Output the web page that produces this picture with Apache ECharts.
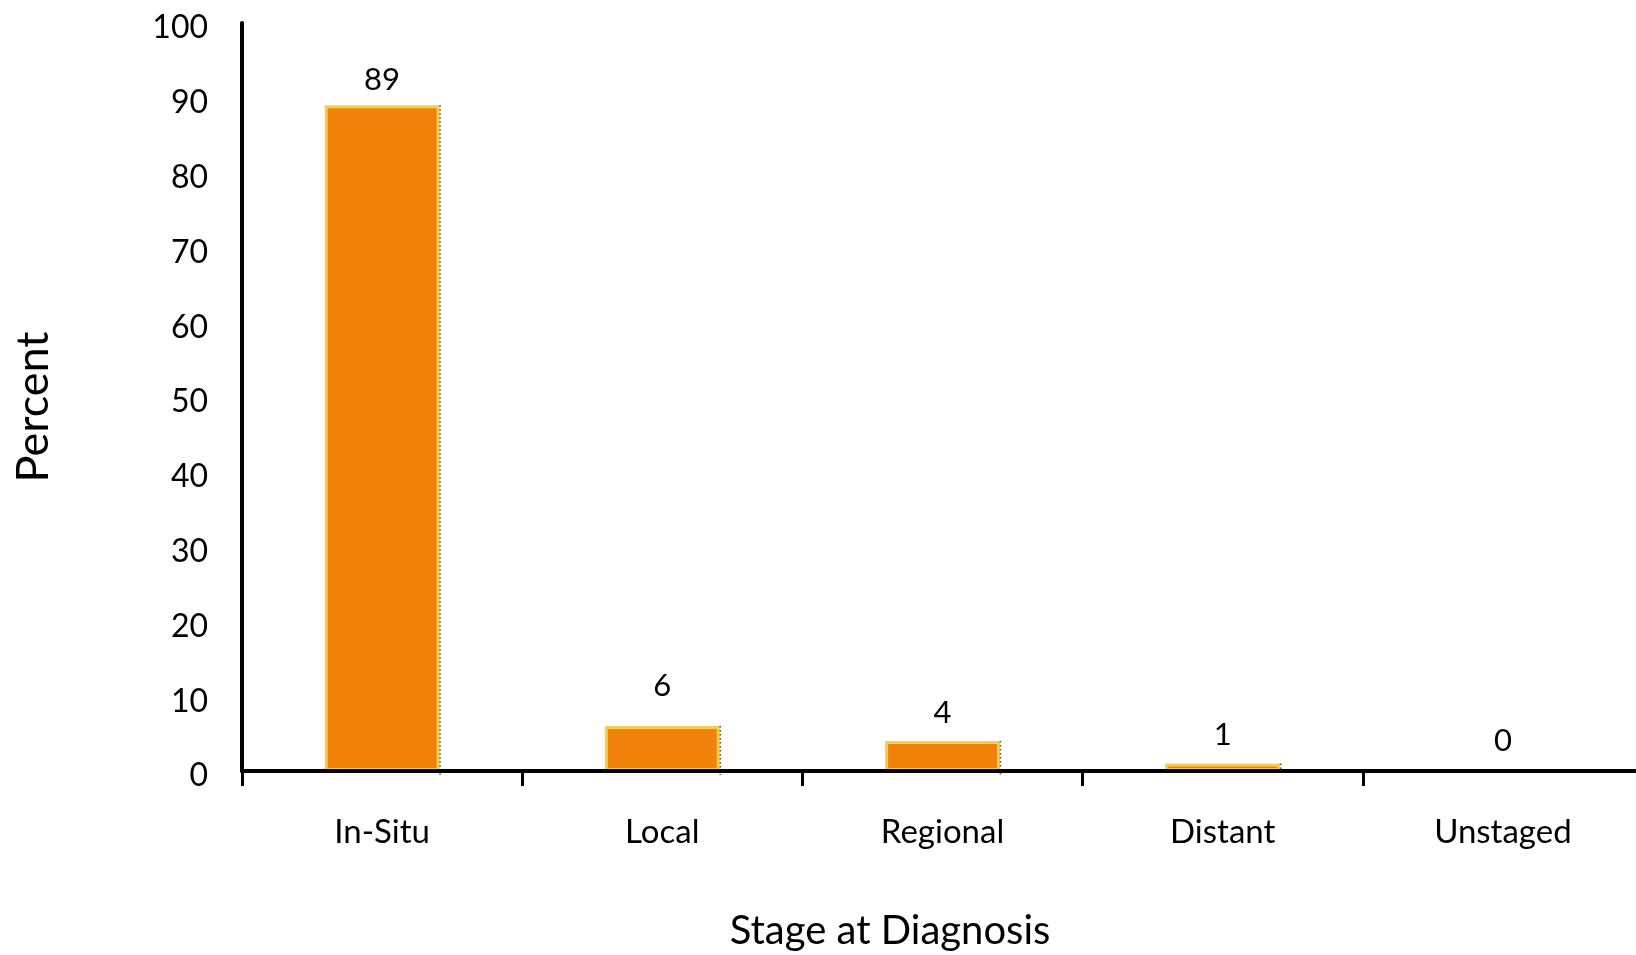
<!DOCTYPE html>
<html>
<head>
<meta charset="utf-8">
<script src="https://cdn.jsdelivr.net/npm/echarts@6/dist/echarts.min.js"></script>
<style>
  html, body { margin: 0; padding: 0; background: #ffffff; }
  #chart { width: 1636px; height: 955px; }
</style>
</head>
<body>
<div id="chart"></div>
<script>
// Stage at diagnosis, percent of cases
const stages = ['In-Situ', 'Local', 'Regional', 'Distant', 'Unstaged'];
const percents = [89, 6, 4, 1, 0];
const yTicks = [0, 10, 20, 30, 40, 50, 60, 70, 80, 90, 100];

// label gap above each bar (px)
const labelGap = [10, 25, 13, 13, 13];

const FONT = 'Lato, "Open Sans", sans-serif';

const chart = echarts.init(document.getElementById('chart'), null, { renderer: 'canvas' });

// thin dotted shading along the right edge of each bar
function renderEdge(params, api) {
  const v = api.value(1);
  if (!(v > 0)) return null;
  const top = api.coord([api.value(0), v]);
  const base = api.coord([api.value(0), 0]);
  const band = api.size([1, 0])[0];
  const half = band * 0.41 / 2;
  const x = top[0] + half + 0.5;
  return {
    type: 'line',
    shape: { x1: x, y1: top[1], x2: x, y2: base[1] + 4 },
    style: { stroke: '#5f5331', lineWidth: 1.6, lineDash: [1.5, 2.5] },
    z2: 10
  };
}

chart.setOption({
  animation: false,
  backgroundColor: '#ffffff',
  title: {
    text: 'Stage at Diagnosis',
    left: 885,
    top: 906,
    textAlign: 'center',
    textStyle: { fontFamily: FONT, fontSize: 40, fontWeight: 'normal', color: '#000000' }
  },
  grid: { left: 242, top: 23, width: 1401, height: 748, containLabel: false, outerBoundsMode: 'none' },
  xAxis: {
    type: 'category',
    data: stages,
    z: 5,
    axisLine: { lineStyle: { color: '#000000', width: 4 } },
    axisTick: { show: true, length: 15, lineStyle: { color: '#000000', width: 3 } },
    axisLabel: { fontFamily: FONT, fontSize: 33, color: '#000000', margin: 45 },
    splitLine: { show: false }
  },
  yAxis: {
    type: 'value',
    min: yTicks[0],
    max: yTicks[yTicks.length - 1],
    interval: yTicks[1] - yTicks[0],
    name: 'Percent',
    nameLocation: 'middle',
    nameRotate: 90,
    nameGap: 186,
    nameTextStyle: { fontFamily: FONT, fontSize: 45, color: '#000000', padding: [0, 20, 0, 0] },
    axisLine: { show: true, lineStyle: { color: '#000000', width: 4 } },
    axisTick: { show: false },
    axisLabel: {
      margin: 34,
      formatter: '{v|{value}}',
      rich: {
        v: { fontFamily: FONT, fontSize: 32, color: '#000000', padding: [10, 0, 0, 0] }
      }
    },
    splitLine: { show: false }
  },
  series: [{
    type: 'bar',
    barWidth: '41%',
    data: percents.map((v, i) => ({
      value: v,
      label: { distance: labelGap[i] }
    })),
    itemStyle: {
      color: '#F0820A',
      borderColor: '#F2CE52',
      borderWidth: 3
    },
    label: {
      show: true,
      position: 'top',
      fontFamily: FONT,
      fontSize: 31,
      color: '#000000'
    }
  }, {
    type: 'custom',
    renderItem: renderEdge,
    data: percents.map((v, i) => [i, v]),
    encode: { x: 0, y: 1 },
    z: 3,
    silent: true
  }]
});
</script>
</body>
</html>
